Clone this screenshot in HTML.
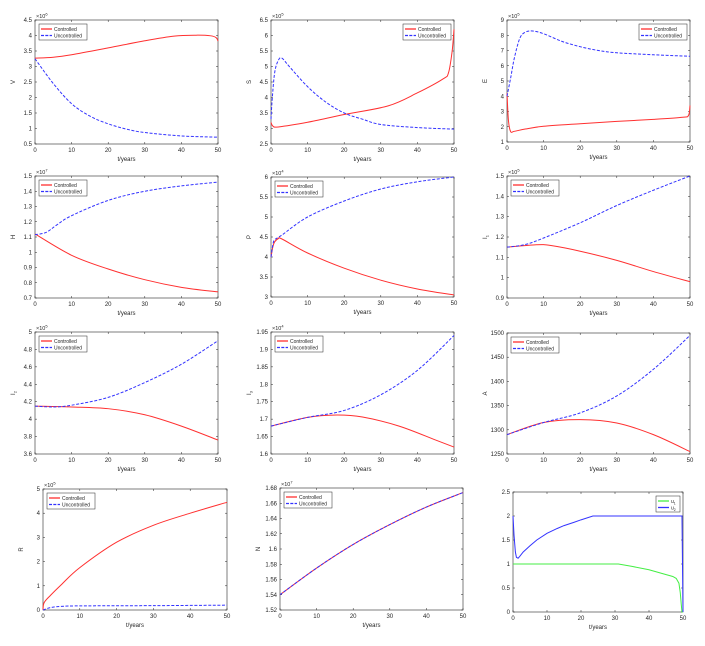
<!DOCTYPE html>
<html><head><meta charset="utf-8"><style>
html,body{margin:0;padding:0;background:#fff;}
svg text{font-family:"Liberation Sans",sans-serif;fill:#262626;}
</style></head><body>
<svg id="s" width="705" height="641" xmlns="http://www.w3.org/2000/svg"></svg>
<script>
var NS="http://www.w3.org/2000/svg",S=document.getElementById('s');
function el(n,a,t){var e=document.createElementNS(NS,n);for(var k in a)e.setAttribute(k,a[k]);if(t!=null)e.textContent=t;S.appendChild(e);return e;}
function cr(pts){var d="M"+pts[0][0].toFixed(2)+","+pts[0][1].toFixed(2);
for(var i=0;i<pts.length-1;i++){var p0=pts[i-1]||pts[i],p1=pts[i],p2=pts[i+1],p3=pts[i+2]||p2;
var c1=[p1[0]+(p2[0]-p0[0])/6,p1[1]+(p2[1]-p0[1])/6],c2=[p2[0]-(p3[0]-p1[0])/6,p2[1]-(p3[1]-p1[1])/6];
d+="C"+c1[0].toFixed(2)+","+c1[1].toFixed(2)+" "+c2[0].toFixed(2)+","+c2[1].toFixed(2)+" "+p2[0].toFixed(2)+","+p2[1].toFixed(2);}return d;}
function pl(pts){return "M"+pts.map(function(p){return p[0].toFixed(2)+","+p[1].toFixed(2)}).join("L");}
function panel(o){
var X=function(t){return o.x0+(o.x1-o.x0)*t/50},Y=function(v){return o.y1-(o.y1-o.y0)*(v-o.ymin)/(o.ymax-o.ymin)};
el('rect',{x:o.x0,y:o.y0,width:o.x1-o.x0,height:o.y1-o.y0,fill:'#fff',stroke:'#262626','stroke-width':0.6});
for(var t=0;t<=50;t+=10){var x=X(t);el('line',{x1:x,x2:x,y1:o.y1,y2:o.y1-2,stroke:'#262626','stroke-width':0.5});el('line',{x1:x,x2:x,y1:o.y0,y2:o.y0+2,stroke:'#262626','stroke-width':0.5});
el('text',{x:x,y:o.y1+8,'font-size':6,'text-anchor':'middle'},String(t));}
o.ticks.forEach(function(v){var y=Y(v);el('line',{x1:o.x0,x2:o.x0+2,y1:y,y2:y,stroke:'#262626','stroke-width':0.5});el('line',{x1:o.x1,x2:o.x1-2,y1:y,y2:y,stroke:'#262626','stroke-width':0.5});
el('text',{x:o.x0-3,y:y+2,'font-size':6,'text-anchor':'end'},o.fmt?o.fmt(v):String(+v.toFixed(3)));});
if(o.exp){var tx=el('text',{x:o.x0+1,y:o.y0-2,'font-size':5.5},null);tx.innerHTML='×10<tspan dy="-2.5" font-size="4">'+o.exp+'</tspan>';}
el('text',{x:(o.x0+o.x1)/2,y:o.y1+17,'font-size':6,'text-anchor':'middle'},'t/years');
if(o.yl){var yl=el('text',{x:o.x0-20,y:(o.y0+o.y1)/2,'font-size':6,'text-anchor':'middle',transform:'rotate(-90 '+(o.x0-20)+' '+((o.y0+o.y1)/2)+')'},null);yl.innerHTML=o.yl;}
o.series.forEach(function(s){var pts=s.d.map(function(p){return [X(p[0]),Y(p[1])]});
el('path',{d:s.lin?pl(pts):cr(pts),fill:'none',stroke:s.c,'stroke-width':1,'stroke-dasharray':s.dash?'3,1.6':'none'});});
var L=o.leg;if(L){var w=L.w||48,h=16,lx=L.r?o.x1-w-3:o.x0+4,ly=o.y0+4;
el('rect',{x:lx,y:ly,width:w,height:h,fill:'#fff',stroke:'#262626','stroke-width':0.5});
L.items.forEach(function(it,i){var yy=ly+5+i*6.5;el('line',{x1:lx+2,x2:lx+13,y1:yy,y2:yy,stroke:it[1],'stroke-width':1.3,'stroke-dasharray':it[2]?'3,1.3':'none'});
var tt=el('text',{x:lx+15,y:yy+2,'font-size':5},null);tt.innerHTML=it[0];});}
}
var R='#ff3030',B='#3333ff',CU=[['Controlled',R,0],['Uncontrolled',B,1]];
function rng(a,b,s){var r=[];for(var v=a;v<=b+1e-9;v+=s)r.push(+v.toFixed(4));return r;}
panel({x0:35,x1:218,y0:20,y1:144,ymin:0.5,ymax:4.5,ticks:rng(0.5,4.5,0.5),exp:6,yl:'V',leg:{items:CU},series:[
{c:R,d:[[0,3.27],[5,3.3],[10,3.38],[20,3.6],[30,3.83],[38,3.98],[44,4.01],[48,3.99],[49.5,3.93],[50,3.82]]},
{c:B,dash:1,d:[[0,3.25],[5,2.45],[10,1.8],[15,1.4],[20,1.15],[25,0.98],[30,0.87],[40,0.76],[50,0.72]]}]});
panel({x0:271,x1:454,y0:20,y1:144,ymin:2.5,ymax:6.5,ticks:rng(2.5,6.5,0.5),exp:5,yl:'S',leg:{r:1,items:CU},series:[
{c:R,d:[[0,3.2],[0.5,3.08],[2,3.05],[10,3.2],[20,3.45],[32,3.73],[40,4.15],[47,4.6],[48.5,4.8],[49.5,5.5],[50,6.2]]},
{c:B,dash:1,d:[[0,3.3],[0.3,3.9],[1,4.8],[2,5.2],[3,5.27],[5,5.0],[10,4.35],[15,3.85],[20,3.5],[25,3.3],[30,3.13],[40,3.03],[50,2.98]]}]});
panel({x0:507,x1:690,y0:20,y1:142,ymin:1,ymax:9,ticks:rng(1,9,1),exp:5,yl:'E',leg:{r:1,items:CU},series:[
{c:R,d:[[0,4.2],[0.4,2.4],[1,1.68],[2,1.7],[5,1.85],[10,2.03],[20,2.2],[30,2.35],[40,2.48],[48,2.62],[49.6,2.75],[50,3.4]]},
{c:B,dash:1,d:[[0,4],[1,5.2],[2,6.5],[3.5,7.8],[5,8.2],[7,8.28],[10,8.1],[15,7.6],[20,7.25],[25,7.0],[30,6.85],[40,6.72],[50,6.62]]}]});
panel({x0:35,x1:218,y0:176,y1:298,ymin:0.7,ymax:1.5,ticks:rng(0.7,1.5,0.1),exp:7,yl:'H',leg:{items:CU},series:[
{c:R,d:[[0,1.12],[10,0.98],[20,0.89],[30,0.82],[40,0.77],[50,0.74]]},
{c:B,dash:1,d:[[0,1.115],[3,1.13],[6,1.18],[10,1.24],[20,1.34],[30,1.4],[40,1.435],[50,1.46]]}]});
panel({x0:271,x1:454,y0:177,y1:297,ymin:3,ymax:6,ticks:rng(3,6,0.5),exp:4,yl:'P',leg:{items:CU},series:[
{c:R,d:[[0,4.0],[0.5,4.25],[1,4.38],[2,4.46],[3,4.45],[10,4.1],[20,3.72],[30,3.42],[40,3.2],[50,3.05]]},
{c:B,dash:1,d:[[0,4.0],[0.5,4.3],[1,4.43],[3,4.55],[10,5.0],[20,5.4],[30,5.7],[40,5.88],[50,6.0]]}]});
panel({x0:507,x1:690,y0:176,y1:298,ymin:0.9,ymax:1.5,ticks:rng(0.9,1.5,0.1),exp:5,yl:'I<tspan dy="1.5" font-size="4">1</tspan>',leg:{items:CU},series:[
{c:R,d:[[0,1.15],[8,1.162],[12,1.158],[20,1.13],[30,1.085],[40,1.03],[50,0.98]]},
{c:B,dash:1,d:[[0,1.15],[5,1.163],[10,1.195],[20,1.27],[30,1.355],[40,1.43],[50,1.5]]}]});
panel({x0:35,x1:218,y0:332,y1:454,ymin:3.6,ymax:5,ticks:rng(3.6,5,0.2),exp:5,yl:'I<tspan dy="1.5" font-size="4">2</tspan>',leg:{items:CU},series:[
{c:R,d:[[0,4.15],[10,4.14],[20,4.12],[30,4.05],[40,3.92],[50,3.76]]},
{c:B,dash:1,d:[[0,4.15],[5,4.14],[10,4.16],[20,4.25],[30,4.42],[40,4.63],[50,4.9]]}]});
panel({x0:271,x1:454,y0:332,y1:454,ymin:1.6,ymax:1.95,ticks:rng(1.6,1.95,0.05),exp:4,yl:'I<tspan dy="1.5" font-size="4">3</tspan>',leg:{items:CU},series:[
{c:R,d:[[0,1.68],[10,1.705],[18,1.712],[25,1.706],[35,1.68],[45,1.64],[50,1.62]]},
{c:B,dash:1,d:[[0,1.68],[10,1.705],[20,1.725],[30,1.77],[40,1.84],[50,1.94]]}]});
panel({x0:507,x1:690,y0:333,y1:454,ymin:1250,ymax:1500,ticks:rng(1250,1500,50),yl:'A',leg:{items:CU},series:[
{c:R,d:[[0,1290],[10,1315],[20,1321],[30,1314],[40,1290],[50,1255]]},
{c:B,dash:1,d:[[0,1290],[10,1315],[20,1335],[30,1370],[40,1425],[50,1495]]}]});
panel({x0:43,x1:227,y0:489,y1:610,ymin:0,ymax:5,ticks:rng(0,5,1),exp:5,yl:'R',leg:{items:CU},series:[
{c:R,d:[[0,0],[0.3,0.3],[2,0.6],[5,1.05],[10,1.75],[20,2.8],[30,3.5],[40,4.0],[50,4.45]]},
{c:B,dash:1,d:[[0,0],[2,0.1],[5,0.15],[10,0.17],[30,0.18],[50,0.2]]}]});
panel({x0:280,x1:463,y0:488,y1:610,ymin:1.52,ymax:1.68,ticks:rng(1.52,1.68,0.02),exp:7,yl:'N',leg:{items:CU},series:[
{c:R,d:[[0,1.54],[10,1.575],[20,1.606],[30,1.632],[40,1.655],[50,1.674]]},
{c:B,dash:1,d:[[0,1.54],[10,1.575],[20,1.606],[30,1.632],[40,1.655],[50,1.674]]}]});
var G='#44ee44';
panel({x0:513,x1:683,y0:492,y1:612,ymin:0,ymax:2.5,ticks:rng(0,2.5,0.5),leg:{r:1,w:24,items:[['u<tspan dy="1.5" font-size="3.5">1</tspan>',G,0],['u<tspan dy="1.5" font-size="3.5">2</tspan>','#3333ff',0]]},series:[
{c:G,lin:1,d:[[0,1],[31,1],[35,0.95],[40,0.88],[44,0.8],[47,0.74],[48,0.7],[48.8,0.6],[49.2,0.4],[49.5,0.15],[49.7,0],[50,0]]},
{c:'#3333ff',lin:1,d:[[0,2],[0.3,1.6],[0.7,1.25],[1,1.14],[1.5,1.12],[2,1.16],[3,1.25],[5,1.38],[7,1.5],[10,1.64],[13,1.74],[15,1.8],[18,1.87],[20,1.92],[23.5,2],[49.7,2],[50,0]]}]});
</script>
</body></html>
